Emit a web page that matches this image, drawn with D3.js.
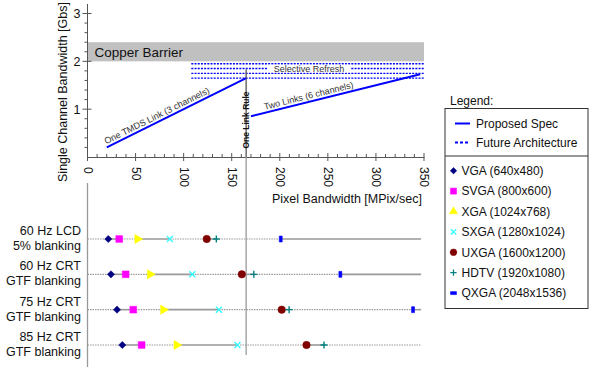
<!DOCTYPE html>
<html>
<head>
<meta charset="utf-8">
<script src="https://cdn.jsdelivr.net/npm/d3@7"></script>
<style>
  body { margin: 0; background: #fff; }
  svg { font-family: "Liberation Sans", Arial, sans-serif; }
</style>
</head>
<body>
<div id="chart"></div>
<script>
// top panel: channel bandwidth vs pixel bandwidth
const xTicks = [0, 50, 100, 150, 200, 250, 300, 350];
const yTicks = [1, 2, 3];
const oneLink = [[20, 0.2], [165, 1.65]];
const twoLinks = [[170, 0.85], [346, 1.73]];
const copperBand = [2.0, 2.4];
const futureLevels = [1.95, 1.85, 1.75, 1.65];
const futureStart = 108;
const linkRule = 165;

// bottom panel: pixel clock per resolution and timing
const rows = ['60 Hz LCD|5% blanking', '60 Hz CRT|GTF blanking', '75 Hz CRT|GTF blanking', '85 Hz CRT|GTF blanking'];
const vga = [21.6, 24.4, 30.7, 36.2];
const svga = [33, 39.7, 47.6, 56.3];
const xga = [52, 65, 78.8, 92.7];
const sxga = [85.7, 109, 136.7, 156];
const uxga = [124, 160.5, 202, 227.8];
const hdtv = [134, 173, 209.7, 246];
const qxga = [201, 263, 338.6, null];
const resNames = ['VGA (640x480)', 'SVGA (800x600)', 'XGA (1024x768)', 'SXGA (1280x1024)', 'UXGA (1600x1200)', 'HDTV (1920x1080)', 'QXGA (2048x1536)'];

const W = 600, H = 373;
const svg = d3.select('#chart').append('svg').attr('width', W).attr('height', H);

const x = d3.scaleLinear().domain([0, 350]).range([87.5, 424]);
const y = d3.scaleLinear().domain([0, 3]).range([157, 13.5]);

// custom stroke symbols
const symX = { draw(ctx, size) { const r = Math.sqrt(size) / 2; ctx.moveTo(-r, -r); ctx.lineTo(r, r); ctx.moveTo(r, -r); ctx.lineTo(-r, r); } };
const symPlus = { draw(ctx, size) { const r = Math.sqrt(size) / 2; ctx.moveTo(-r, 0); ctx.lineTo(r, 0); ctx.moveTo(0, -r); ctx.lineTo(0, r); } };
const symBar = { draw(ctx, size) { ctx.rect(-1.5, -3, 3, 6); } };
const symDash = { draw(ctx, size) { ctx.rect(-3, -1.5, 6, 3); } };

const series = [
  { name: resNames[0], values: vga, color: '#000080', type: d3.symbolSquare, size: 26, rot: 45, fill: true },
  { name: resNames[1], values: svga, color: '#ff00ff', type: d3.symbolSquare, size: 46, rot: 0, fill: true },
  { name: resNames[2], values: xga, color: '#ffff00', type: d3.symbolTriangle, size: 36, rot: 90, legendRot: 0, fill: true },
  { name: resNames[3], values: sxga, color: '#33ffff', type: symX, size: 36, rot: 0, fill: false },
  { name: resNames[4], values: uxga, color: '#800000', type: d3.symbolCircle, size: 44, rot: 0, fill: true },
  { name: resNames[5], values: hdtv, color: '#008080', type: symPlus, size: 49, rot: 0, fill: false },
  { name: resNames[6], values: qxga, color: '#0000ff', type: symBar, legendType: symDash, size: 18, rot: 0, fill: true }
];

// copper barrier band
svg.append('rect')
  .attr('x', x(0)).attr('width', x(350) - x(0))
  .attr('y', y(copperBand[1])).attr('height', y(copperBand[0]) - y(copperBand[1]))
  .attr('fill', '#c0c0c0');
svg.append('text').attr('x', x(0) + 7).attr('y', (y(copperBand[0]) + y(copperBand[1])) / 2 + 5)
  .attr('font-size', 13.5).attr('fill', '#111').text('Copper Barrier');

// future architecture dotted lines
futureLevels.forEach(v => {
  svg.append('line')
    .attr('x1', x(futureStart)).attr('x2', x(350))
    .attr('y1', y(v)).attr('y2', y(v))
    .attr('stroke', '#0000ff').attr('stroke-width', 1.3).attr('stroke-dasharray', '2,1.2');
});
const srText = svg.append('text').attr('x', 309).attr('y', y(futureLevels[1]) + 3.2)
  .attr('text-anchor', 'middle').attr('font-size', 9).attr('fill', '#333').text('Selective Refresh');
const bb = srText.node().getBBox();
svg.insert('rect', () => srText.node())
  .attr('x', bb.x - 6).attr('y', y(futureLevels[0]) + 1)
  .attr('width', bb.width + 12).attr('height', y(futureLevels[2]) - y(futureLevels[0]) - 2)
  .attr('fill', '#fff');

// axes
const yAxis = d3.axisLeft(y).tickValues(yTicks).tickSize(0).tickPadding(7).tickFormat(d3.format('d'));
const gy = svg.append('g').attr('transform', `translate(${x(0)},0)`).call(yAxis);
gy.select('.domain').remove();
gy.selectAll('text').attr('font-size', 12.5).attr('fill', '#111').attr('font-family', null);
svg.append('line').attr('x1', x(0)).attr('x2', x(0)).attr('y1', 4).attr('y2', y(0)).attr('stroke', '#555');
svg.append('g').selectAll('line').data(d3.range(0.2, 3.01, 0.2)).join('line')
  .attr('x1', d => Math.abs(d - Math.round(d)) < 1e-6 ? x(0) - 5 : x(0) - 3)
  .attr('x2', d => Math.abs(d - Math.round(d)) < 1e-6 ? x(0) + 4 : x(0))
  .attr('y1', d => y(d)).attr('y2', d => y(d)).attr('stroke', '#555');

const xAxis = d3.axisBottom(x).tickValues(xTicks).tickSize(0).tickPadding(0);
const gx = svg.append('g').attr('transform', `translate(0,${y(0)})`).call(xAxis);
gx.select('.domain').attr('stroke', '#555');
gx.selectAll('text')
  .attr('font-size', 12).attr('fill', '#111').attr('font-family', null)
  .attr('transform', 'rotate(90)').attr('text-anchor', 'start')
  .attr('x', 10).attr('y', 0).attr('dy', '0.35em');
svg.append('g').selectAll('line').data(x.ticks(35)).join('line')
  .attr('x1', d => x(d)).attr('x2', d => x(d))
  .attr('y1', d => d % 50 === 0 ? y(0) - 4 : y(0) - 3)
  .attr('y2', d => d % 50 === 0 ? y(0) + 4 : y(0))
  .attr('stroke', '#555');

svg.append('text').attr('transform', 'translate(67,92) rotate(-90)')
  .attr('text-anchor', 'middle').attr('font-size', 12.5).attr('fill', '#111')
  .text('Single Channel Bandwidth [Gbs]');
svg.append('text').attr('x', 422).attr('y', 203).attr('text-anchor', 'end')
  .attr('font-size', 12.5).attr('fill', '#111').text('Pixel Bandwidth [MPix/sec]');

// bottom panel
const rowY = d3.scalePoint().domain(rows).range([239, 345]);

svg.append('line').attr('x1', x(0)).attr('x2', x(0)).attr('y1', 183).attr('y2', 367)
  .attr('stroke', '#999').attr('stroke-width', 1.3);

rows.forEach((r, i) => {
  const pts = [0].concat(series.map(s => s.values[i]).filter(v => v != null)).concat([347]).sort((a, b) => a - b);
  for (let k = 0; k < pts.length - 1; k++) {
    svg.append('line')
      .attr('x1', x(pts[k])).attr('x2', x(pts[k + 1]))
      .attr('y1', rowY(r)).attr('y2', rowY(r))
      .attr('stroke', '#999').attr('stroke-width', k % 2 === 0 ? 1.2 : 1.6)
      .attr('stroke-dasharray', k % 2 === 0 ? '1.5,1' : null);
  }
  const [l1, l2] = r.split('|');
  svg.append('text').attr('x', 81).attr('y', rowY(r) - 4).attr('text-anchor', 'end')
    .attr('font-size', 12.5).attr('fill', '#111').text(l1);
  svg.append('text').attr('x', 81).attr('y', rowY(r) + 11).attr('text-anchor', 'end')
    .attr('font-size', 12.5).attr('fill', '#111').text(l2);
});

// one link rule
svg.append('line').attr('x1', x(linkRule)).attr('x2', x(linkRule))
  .attr('y1', y(futureLevels[1]) + 1).attr('y2', y(0))
  .attr('stroke', '#555').attr('stroke-width', 1.3);
svg.append('line').attr('x1', x(linkRule)).attr('x2', x(linkRule))
  .attr('y1', y(0)).attr('y2', 355)
  .attr('stroke', '#999').attr('stroke-width', 1.3);
svg.append('text').attr('transform', `translate(${x(linkRule) + 3},120) rotate(-90)`)
  .attr('text-anchor', 'middle').attr('font-size', 8.5).attr('font-weight', 'bold').attr('fill', '#111')
  .text('One Link Rule');

// proposed spec lines
const line = d3.line().x(d => x(d[0])).y(d => y(d[1]));
[oneLink, twoLinks].forEach(seg => {
  svg.append('path').attr('d', line(seg)).attr('fill', 'none').attr('stroke', '#0000ff').attr('stroke-width', 2);
});
function lineLabel(seg, atX, txt) {
  const ang = Math.atan2(y(seg[1][1]) - y(seg[0][1]), x(seg[1][0]) - x(seg[0][0])) * 180 / Math.PI;
  const t = (atX - seg[0][0]) / (seg[1][0] - seg[0][0]);
  const yy = seg[0][1] + t * (seg[1][1] - seg[0][1]);
  svg.append('text').attr('transform', `translate(${x(atX)},${y(yy)}) rotate(${ang}) translate(0,-3)`)
    .attr('font-size', 9).attr('fill', '#333').text(txt);
}
lineLabel(oneLink, 21, 'One TMDS Link (3 channels)');
lineLabel(twoLinks, 185, 'Two Links (6 channels)');

// resolution markers
series.forEach(s => {
  rows.forEach((r, i) => {
    const v = s.values[i];
    if (v == null) return;
    svg.append('path')
      .attr('d', d3.symbol().type(s.type).size(s.size)())
      .attr('transform', `translate(${x(v)},${rowY(r)}) rotate(${s.rot})`)
      .attr('fill', s.fill ? s.color : 'none')
      .attr('stroke', s.color).attr('stroke-width', s.fill ? 0.5 : 1.4);
  });
});

// legend
const lg = svg.append('g');
lg.append('text').attr('x', 450).attr('y', 105).attr('font-size', 12).attr('fill', '#111').text('Legend:');
lg.append('rect').attr('x', 445).attr('y', 108.5).attr('width', 143).attr('height', 200)
  .attr('fill', 'none').attr('stroke', '#333');
lg.append('line').attr('x1', 445).attr('x2', 588).attr('y1', 156).attr('y2', 156).attr('stroke', '#333');
[['Proposed Spec', null], ['Future Architecture', '3,2']].forEach((d, i) => {
  const yy = 123.5 + i * 19;
  lg.append('line').attr('x1', 455).attr('x2', 470).attr('y1', yy).attr('y2', yy)
    .attr('stroke', '#0000ff').attr('stroke-width', 2).attr('stroke-dasharray', d[1]);
  lg.append('text').attr('x', 476).attr('y', yy + 4.3).attr('font-size', 12).attr('fill', '#111').text(d[0]);
});
series.forEach((s, i) => {
  const yy = 170.7 + i * 20.4;
  lg.append('path')
    .attr('d', d3.symbol().type(s.legendType || s.type).size(s.size * 0.8)())
    .attr('transform', `translate(453.5,${yy}) rotate(${s.legendRot != null ? s.legendRot : s.rot})`)
    .attr('fill', s.fill ? s.color : 'none')
    .attr('stroke', s.color).attr('stroke-width', s.fill ? 0.5 : 1.3);
  lg.append('text').attr('x', 461.5).attr('y', yy + 4.3).attr('font-size', 12).attr('fill', '#111').text(s.name);
});
</script>
</body>
</html>
